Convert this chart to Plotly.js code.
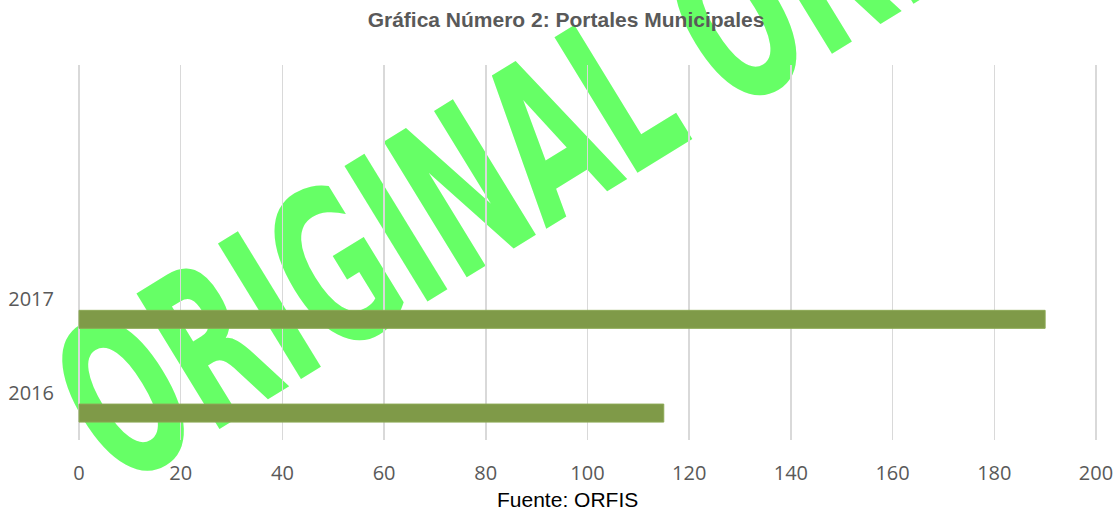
<!DOCTYPE html>
<html>
<head>
<meta charset="utf-8">
<script src="https://cdn.plot.ly/plotly-3.0.1.min.js"></script>
<style>
  html, body { margin: 0; padding: 0; background: #ffffff; }
  #chart { width: 1118px; height: 511px; }
</style>
</head>
<body>
<div id="chart"></div>
<script>
// ---- data ----
const categories = ['2016', '2017'];
const portales = [115, 190];
const xTickValues = [0, 20, 40, 60, 80, 100, 120, 140, 160, 180, 200];

const chartTitle = 'Gráfica Número 2: Portales Municipales';
const sourceNote = 'Fuente: ORFIS';
const watermarkText = 'ORIGINAL ORFIS';

const trace = {
  type: 'bar',
  orientation: 'h',
  y: categories,
  x: portales,
  width: 0.192,
  offset: -0.309,
  marker: { color: '#7F9A48', line: { color: '#8CA955', width: 1 } },
  hoverinfo: 'x+y'
};

const layout = {
  width: 1118,
  height: 511,
  margin: { l: 78, r: 21, t: 65, b: 71 },
  paper_bgcolor: '#ffffff',
  plot_bgcolor: 'rgba(0,0,0,0)',
  showlegend: false,
  bargap: 0,
  title: {
    text: '<b>' + chartTitle + '</b>',
    font: { family: 'Liberation Sans, Arial, sans-serif', size: 21, color: '#595959' },
    x: 0.5063, xanchor: 'center', xref: 'container',
    y: 0.961, yanchor: 'middle', yref: 'container'
  },
  xaxis: {
    range: [-0.2, 200.2],
    tickvals: xTickValues,
    showgrid: true,
    gridcolor: '#D9D9D9',
    gridwidth: 1.5,
    zeroline: false,
    showline: false,
    ticks: '',
    ticklabelstandoff: 19,
    tickfont: { family: 'Open Sans, sans-serif', size: 20, color: '#595959' },
    fixedrange: true
  },
  yaxis: {
    type: 'category',
    categoryarray: categories,
    range: [-0.5, 3.5],
    showgrid: false,
    zeroline: false,
    showline: false,
    ticks: '',
    ticklabelstandoff: 23,
    tickfont: { family: 'Open Sans, sans-serif', size: 20, color: '#595959' },
    fixedrange: true
  },
  annotations: [{
    text: sourceNote,
    xref: 'paper', yref: 'paper',
    x: 0.48, y: -0.16,
    xanchor: 'center', yanchor: 'middle',
    showarrow: false,
    font: { family: 'Liberation Sans, Arial, sans-serif', size: 21, color: '#000000' }
  }],
  shapes: [{
    type: 'line',
    layer: 'below',
    xref: 'paper', yref: 'paper',
    x0: 0.388, y0: 0.7387, x1: 0.558, y1: 1.0053,
    line: { width: 0, color: 'rgba(0,0,0,0)' },
    label: {
      text: '<b>' + watermarkText + '</b>',
      textposition: 'middle',
      xanchor: 'center',
      yanchor: 'middle',
      font: { family: 'DejaVu Sans, sans-serif', size: 218, color: '#66FF66' }
    }
  }]
};

Plotly.newPlot('chart', [trace], layout, { displayModeBar: false, staticPlot: true }).then(function () {
  // condense the watermark lettering horizontally (WordArt-like narrow letters)
  document.querySelectorAll('.shape-label text').forEach(function (t) {
    const x = parseFloat(t.getAttribute('x')) || 0;
    const y = parseFloat(t.getAttribute('y')) || 0;
    t.setAttribute('transform',
      'rotate(-31.5 ' + x + ' ' + y + ') translate(' + x + ' ' + y + ') scale(0.57 1) translate(' + (-x) + ' ' + (-y) + ')');
  });
});
</script>
</body>
</html>
